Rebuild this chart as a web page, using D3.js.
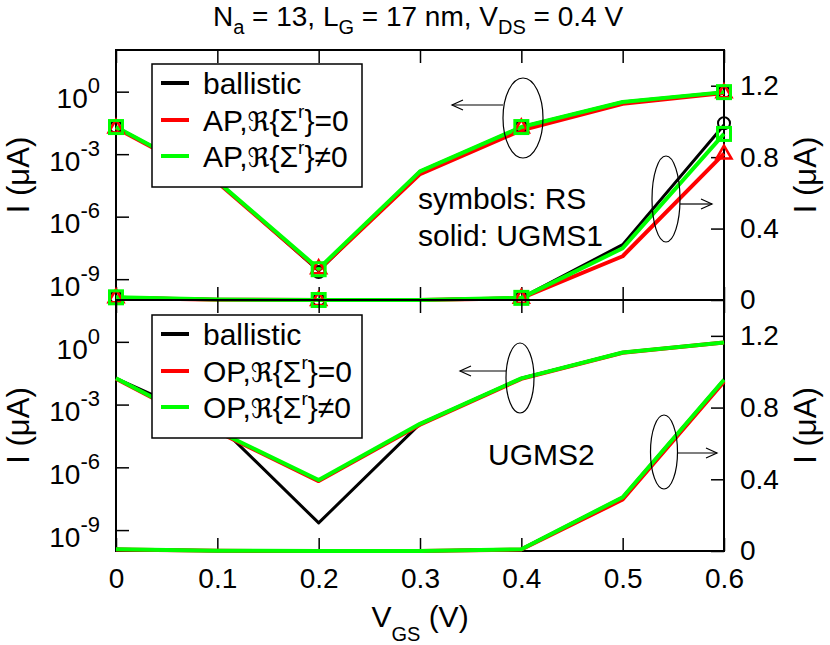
<!DOCTYPE html>
<html>
<head>
<meta charset="utf-8">
<script src="https://cdn.jsdelivr.net/npm/d3@7"></script>
<style>
body { margin: 0; background: #fff; }
text { font-family: "Liberation Sans", Arial, Helvetica, sans-serif; fill: #000; }
</style>
</head>
<body>
<svg id="svg"></svg>
<script>

var width = 830, height = 645;

// x values (V_GS) for the solid lines and for the RS symbols
var vgs    = [0, 0.1, 0.2, 0.3, 0.4, 0.5, 0.6];
var vgsSym = [0, 0.2, 0.4, 0.6];

// tick values
var xTicks   = [0, 0.1, 0.2, 0.3, 0.4, 0.5, 0.6];
var logTicks = [1, 1e-3, 1e-6, 1e-9];
var logExps  = ["0", "-3", "-6", "-9"];
var linTicks = [0, 0.4, 0.8, 1.2];

// ---- top panel : AP, UGMS1 lines + RS symbols ----
// log axis (left)
var apLogBallistic = [2.0e-2, 5.0e-5, 2.5e-9, 1.5e-4, 2.0e-2, 0.32, 0.95];
var apLogRe0       = [1.8e-2, 4.5e-5, 2.8e-9, 1.1e-4, 1.4e-2, 0.26, 0.87];
var apLogReN       = [2.0e-2, 5.0e-5, 3.2e-9, 1.5e-4, 2.0e-2, 0.32, 0.95];
// linear axis (right)
var apLinBallistic = [0.015, 0.003, 0, 0, 0.012, 0.31, 0.98];
var apLinRe0       = [0.012, 0.002, 0, 0, 0.010, 0.245, 0.82];
var apLinReN       = [0.015, 0.003, 0, 0, 0.012, 0.29, 0.93];
// RS symbols
var rsLogBallistic = [2.0e-2, 2.2e-9, 2.0e-2, 0.95];
var rsLogRe0       = [1.9e-2, 3.3e-9, 1.9e-2, 0.93];
var rsLogReN       = [2.0e-2, 3.0e-9, 2.0e-2, 0.95];
var rsLinBallistic = [0.015, 0, 0.012, 0.99];
var rsLinRe0       = [0.015, 0, 0.012, 0.82];
var rsLinReN       = [0.015, 0, 0.012, 0.93];

// ---- bottom panel : OP, UGMS2 lines ----
var opLogBallistic = [1.8e-2, 1.2e-4, 2.2e-9, 1.2e-4, 1.8e-2, 0.31, 0.93];
var opLogRe0       = [1.7e-2, 5.0e-5, 2.2e-7, 1.1e-4, 1.7e-2, 0.30, 0.92];
var opLogReN       = [1.8e-2, 5.5e-5, 2.5e-7, 1.2e-4, 1.8e-2, 0.31, 0.93];
var opLinBallistic = [0.010, 0.002, 0, 0, 0.010, 0.30, 0.955];
var opLinRe0       = [0.008, 0.001, 0, 0, 0.008, 0.287, 0.945];
var opLinReN       = [0.010, 0.002, 0, 0, 0.010, 0.30, 0.955];

// legend
var legendColors = ["#000000", "#ff0000", "#00ff00"];
var legendTop    = ["AP", "AP"];
var legendBottom = ["OP", "OP"];
var legendRel    = ["=0", "\u22600"];

var svg = d3.select("#svg").attr("width", width).attr("height", height);

var x = d3.scaleLinear().domain([0, 0.6]).range([116, 724]);

var line = function(ys, yScale){
    return d3.line()
        .x(function(d, i){ return x(vgs[i]); })
        .y(function(d){ return yScale(d); })(ys);
};

function drawArrow(g, x1, y1, x2, y2){
    // open arrowhead at (x2,y2)
    var dir = x2 > x1 ? 1 : -1;
    g.append("line").attr("x1", x1).attr("y1", y1).attr("x2", x2).attr("y2", y2)
        .attr("stroke", "#000").attr("stroke-width", 1.2);
    g.append("path")
        .attr("d", "M" + (x2 - dir*11) + "," + (y2 - 5) + "L" + x2 + "," + y2 + "L" + (x2 - dir*11) + "," + (y2 + 5))
        .attr("fill", "none").attr("stroke", "#000").attr("stroke-width", 1.2);
}

function drawLegend(g, y0, names){
    var box = g.append("g");
    box.append("rect").attr("x", 152).attr("y", y0).attr("width", 210).attr("height", 123)
        .attr("fill", "#fff").attr("stroke", "#000").attr("stroke-width", 1.5);
    var rows = [y0 + 19, y0 + 56, y0 + 92];
    rows.forEach(function(ry, i){
        box.append("line").attr("x1", 161).attr("x2", 189).attr("y1", ry).attr("y2", ry)
            .attr("stroke", legendColors[i]).attr("stroke-width", 4);
        var t = box.append("text").attr("x", 203).attr("y", ry + 11).attr("font-size", 30);
        if(i == 0){
            t.text("ballistic");
        } else {
            t.append("tspan").text(names[i-1] + ",");
            t.append("tspan").style("font-family", "DejaVu Sans").attr("font-size", 27).text("\u211C");
            t.append("tspan").text("{\u03A3");
            t.append("tspan").attr("font-size", 19).attr("dy", -13).text("r");
            t.append("tspan").attr("dy", 13).text("}" + legendRel[i-1]);
        }
    });
}

function drawPanel(y0, h, opt){
    var g = svg.append("g");
    var yLog = d3.scaleLog().domain([1e-10, 1e2]).range([y0 + h, y0]);
    var yLin = d3.scaleLinear().domain([0, 1.4]).range([y0 + h, y0]);

    // ticks (inward)
    g.append("g").attr("transform", "translate(0," + y0 + ")")
        .call(d3.axisTop(x).tickValues(xTicks).tickSize(-13).tickFormat(""));
    g.append("g").attr("transform", "translate(0," + (y0 + h) + ")")
        .call(d3.axisBottom(x).tickValues(xTicks).tickSize(-13).tickPadding(17)
              .tickFormat(opt.xLabels ? function(d){ return d === 0 ? "0" : d.toFixed(1); } : ""));
    var lx = g.append("g").attr("transform", "translate(116,0)")
        .call(d3.axisLeft(yLog).tickValues(logTicks).tickSize(-13).tickPadding(16));
    g.append("g").attr("transform", "translate(724,0)")
        .call(d3.axisRight(yLin).tickValues(linTicks).tickSize(-13).tickPadding(16)
              .tickFormat(function(d){ return d === 0 ? "0" : d.toFixed(1); }));
    g.selectAll(".domain").remove();
    g.selectAll(".tick line").attr("stroke", "#000").attr("stroke-width", 1.5);
    g.selectAll(".tick text").attr("font-size", 28).attr("font-family", null);

    // left labels 10^n
    lx.selectAll(".tick text").each(function(d, i){
        var t = d3.select(this).text("").attr("dy", "0.58em");
        t.append("tspan").text("10");
        t.append("tspan").attr("font-size", 22).attr("dy", -15).text(logExps[i]);
    });

    // frame
    g.append("rect").attr("x", 116).attr("y", y0).attr("width", 608).attr("height", h)
        .attr("fill", "none").attr("stroke", "#000").attr("stroke-width", 2);

    // lines: ballistic, Re=0, Re!=0
    var lin = opt.lin, lg = opt.log;
    [0, 1, 2].forEach(function(k){
        g.append("path").attr("d", line(lg[k], yLog)).attr("fill", "none")
            .attr("stroke", legendColors[k]).attr("stroke-width", k == 0 ? 3 : 4)
            .attr("stroke-linejoin", "round");
        g.append("path").attr("d", line(lin[k], yLin)).attr("fill", "none")
            .attr("stroke", legendColors[k]).attr("stroke-width", k == 0 ? 3 : 4)
            .attr("stroke-linejoin", "round");
    });

    // RS symbols
    if(opt.sym){
        [yLog, yLin].forEach(function(ys, j){
            var s = opt.sym[j];
            g.selectAll(null).data(s[0]).enter().append("circle")
                .attr("cx", function(d, i){ return x(vgsSym[i]); })
                .attr("cy", function(d){ return ys(d); })
                .attr("r", 6).attr("fill", "none").attr("stroke", "#000").attr("stroke-width", 2);
            g.selectAll(null).data(s[1]).enter().append("path")
                .attr("transform", function(d, i){ return "translate(" + x(vgsSym[i]) + "," + ys(d) + ")"; })
                .attr("d", "M0,-8L7.5,5L-7.5,5Z")
                .attr("fill", "none").attr("stroke", "#ff0000").attr("stroke-width", 2.5);
            g.selectAll(null).data(s[2]).enter().append("rect")
                .attr("x", function(d, i){ return x(vgsSym[i]) - 6.5; })
                .attr("y", function(d){ return ys(d) - 6.5; })
                .attr("width", 13).attr("height", 13)
                .attr("fill", "none").attr("stroke", "#00ff00").attr("stroke-width", 3);
        });
    }

    drawLegend(g, opt.legendY, opt.names);

    // ellipses + arrows
    opt.marks.forEach(function(m){
        g.append("ellipse").attr("cx", m[0]).attr("cy", m[1]).attr("rx", m[2]).attr("ry", m[3])
            .attr("fill", "none").attr("stroke", "#000").attr("stroke-width", 1.2);
        drawArrow(g, m[4], m[5], m[6], m[5]);
    });

    // y titles
    g.append("text").attr("transform", "translate(29," + (y0 + h/2) + ") rotate(-90)")
        .attr("text-anchor", "middle").attr("font-size", 31).text("I (\u03BCA)");
    g.append("text").attr("transform", "translate(816," + (y0 + h/2) + ") rotate(-90)")
        .attr("text-anchor", "middle").attr("font-size", 31).text("I (\u03BCA)");

    return g;
}

var topPanel = drawPanel(50, 250, {
    log: [apLogBallistic, apLogRe0, apLogReN],
    lin: [apLinBallistic, apLinRe0, apLinReN],
    sym: [[rsLogBallistic, rsLogRe0, rsLogReN], [rsLinBallistic, rsLinRe0, rsLinReN]],
    legendY: 64, names: legendTop, xLabels: false,
    marks: [[523, 118, 20, 40, 503, 105, 452], [666, 199, 14, 43, 680, 204, 712]]
});
topPanel.append("text").attr("x", 418).attr("y", 209).attr("font-size", 30).text("symbols: RS");
topPanel.append("text").attr("x", 418).attr("y", 246).attr("font-size", 30).text("solid: UGMS1");

var bottomPanel = drawPanel(300, 251, {
    log: [opLogBallistic, opLogRe0, opLogReN],
    lin: [opLinBallistic, opLinRe0, opLinReN],
    sym: null,
    legendY: 315, names: legendBottom, xLabels: true,
    marks: [[520, 378, 14, 35, 506, 371, 460], [664, 452, 13.5, 37, 677, 453, 717]]
});
bottomPanel.append("text").attr("x", 488).attr("y", 465).attr("font-size", 30).text("UGMS2");

// x title
var xt = svg.append("text").attr("x", 420).attr("y", 627).attr("text-anchor", "middle").attr("font-size", 30);
xt.append("tspan").text("V");
xt.append("tspan").attr("font-size", 20).attr("dy", 14).text("GS");
xt.append("tspan").attr("dy", -14).text(" (V)");

// title
var tt = svg.append("text").attr("x", 418).attr("y", 26).attr("text-anchor", "middle").attr("font-size", 28);
tt.append("tspan").text("N");
tt.append("tspan").attr("font-size", 20).attr("dy", 8).text("a");
tt.append("tspan").attr("dy", -8).text(" = 13, L");
tt.append("tspan").attr("font-size", 20).attr("dy", 8).text("G");
tt.append("tspan").attr("dy", -8).text(" = 17 nm, V");
tt.append("tspan").attr("font-size", 20).attr("dy", 8).text("DS");
tt.append("tspan").attr("dy", -8).text(" = 0.4 V");

</script>
</body>
</html>
